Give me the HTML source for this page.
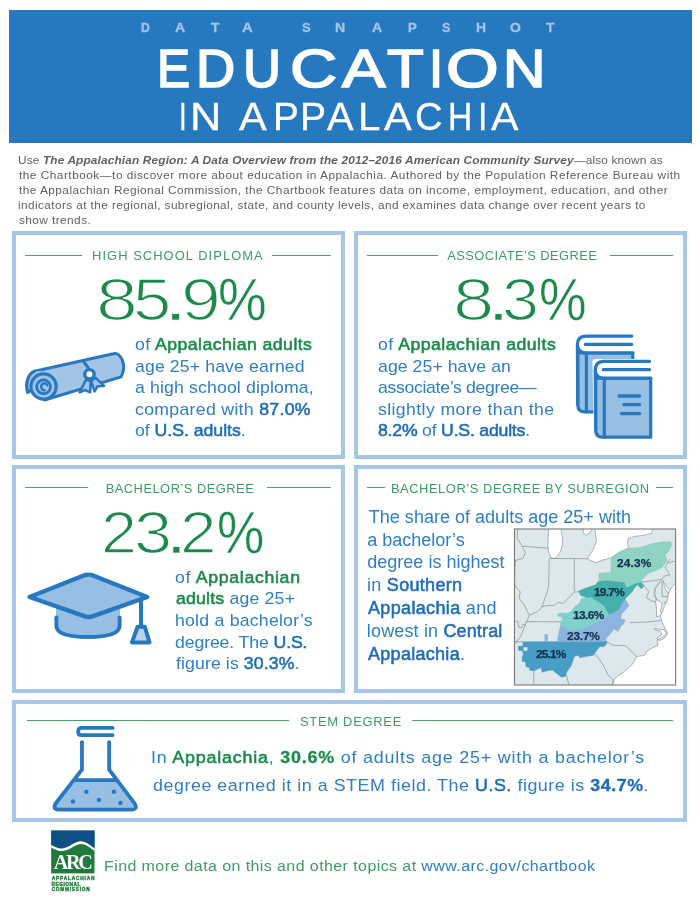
<!DOCTYPE html>
<html lang="en"><head><meta charset="utf-8"><title>Data Snapshot: Education in Appalachia</title>
<style>
html,body{margin:0;padding:0;background:#fff}
body{width:700px;height:906px;position:relative;overflow:hidden;font-family:"Liberation Sans",sans-serif}
.t{position:absolute;white-space:nowrap;margin:0;padding:0;transform-origin:0 50%}
.t b{font-weight:400}
.p{display:inline-block;width:0;height:0;vertical-align:baseline}
.banner{position:absolute;left:9px;top:9.5px;width:683px;height:133.5px;background:#2779bf}
.card{position:absolute;box-sizing:border-box;border:4px solid #a5c6e6;background:#fff}
.g{position:absolute;left:0;margin:0;padding:0;white-space:nowrap;font-size:0;line-height:0}
.l{display:inline-block;width:0;white-space:nowrap;transform-origin:0 50%;vertical-align:baseline}
.rule{position:absolute;height:1.5px;background:#48a36f}
svg{position:absolute;overflow:visible}
</style></head><body>
<div class="banner"></div>
<div class="card" style="left:12px;top:230.7px;width:333px;height:228px"></div>
<div class="card" style="left:354px;top:230.7px;width:333px;height:228px"></div>
<div class="card" style="left:12px;top:465px;width:333px;height:228px"></div>
<div class="card" style="left:354px;top:465px;width:333px;height:228px"></div>
<div class="card" style="left:12px;top:699.8px;width:675px;height:122.4px"></div>
<!-- rules -->
<div class="rule" style="left:24.6px;width:57.8px;top:254.5px"></div>
<div class="rule" style="left:271.8px;width:59.2px;top:254.5px"></div>
<div class="rule" style="left:366.7px;width:70.9px;top:254.5px"></div>
<div class="rule" style="left:609.5px;width:63.5px;top:254.5px"></div>
<div class="rule" style="left:24.6px;width:63.6px;top:486.6px"></div>
<div class="rule" style="left:267.4px;width:63.6px;top:486.6px"></div>
<div class="rule" style="left:366.7px;width:17.9px;top:486.6px"></div>
<div class="rule" style="left:656.1px;width:17px;top:486.6px"></div>
<div class="rule" style="left:27.1px;width:261.5px;top:719.7px"></div>
<div class="rule" style="left:411.9px;width:261.1px;top:719.7px"></div>
<svg width="700" height="906" viewBox="0 0 700 906" style="left:0;top:0">
<g fill="#a2c5e7" stroke="#2878c0" stroke-width="3.0" stroke-linejoin="round" stroke-linecap="round">
<path stroke="none" d="M34.6,371.3 L113.4,353.7 C121.1,351.7 127.1,365.7 121.1,376.9 L44.6,400.0 L43.6,386.6 Z"/>
<path fill="none" d="M34.6,371.3 L113.4,353.7 C121.1,351.7 127.1,365.7 121.1,376.9 L44.6,400.0"/>
<path fill="none" d="M83.8,361.9 Q87.2,365.7 88.9,369.1"/>
<path stroke="none" d="M30.86,390.36 L27.71,392.29 C25.00,384.29 27.86,373.57 34.64,371.29 L48.57,370.71 L43.57,386.57 Z"/>
<path fill="none" stroke-width="3.2" d="M30.86,390.36 L27.71,392.29 C25.00,384.29 27.86,373.57 34.64,371.29"/>
<circle cx="43.57" cy="386.57" r="12.6" stroke-width="3.2"/>
<circle cx="43.57" cy="386.87" r="6.9" fill="none" stroke-width="2.8"/>
<path fill="none" stroke-width="2.4" d="M47.29,385.14 C45.00,381.43 40.36,383.93 41.43,388.00 Q42.29,390.36 44.64,390.36"/>
<path stroke-width="2.5" d="M86.00,379.77 L79.66,392.29 L85.14,390.06 L90.29,392.29 L90.63,381.14Z"/>
<path stroke-width="2.5" d="M91.14,381.14 L94.57,391.43 L97.49,386.29 L104.00,385.94 L95.43,377.71Z"/>
<circle cx="89.43" cy="374.29" r="4.7" fill="#fff" stroke-width="3.4"/>
</g>
<g stroke="#2878c0" stroke-width="3.2" stroke-linejoin="round" stroke-linecap="round">
<g id="backbook"><path fill="#97bfe4" d="M577.81,352.84 L632.81,352.84 L632.81,411.84 L584.53,411.84 Q577.81,411.84 577.81,404.70 Z"/>
<path fill="#fff" d="M631.67,336.13 L585.67,336.13 Q577.39,336.56 577.39,344.70 Q577.67,352.27 585.39,352.84 L632.81,352.84"/>
<path fill="none" d="M585.39,344.41 L631.67,344.41"/>
<path fill="none" d="M586.39,353.13 L586.39,411.84"/>
<path fill="none" d="M577.39,344.70 L577.81,404.70"/></g>
<path fill="#fff" stroke="#fff" stroke-width="6.5" d="M595.71,362.14 L650.71,362.14 L650.71,437.14 L597.14,437.14 Z"/>
<path fill="#97bfe4" d="M595.71,378.14 L650.71,378.14 L650.71,437.14 L602.43,437.14 Q595.71,437.14 595.71,430.00 Z"/>
<path fill="#fff" d="M649.57,361.43 L603.57,361.43 Q595.29,361.86 595.29,370.00 Q595.57,377.57 603.29,378.14 L650.71,378.14"/>
<path fill="none" d="M603.29,369.71 L649.57,369.71"/>
<path fill="none" d="M604.29,378.43 L604.29,437.14"/>
<path fill="none" d="M595.29,370.00 L595.71,430.00"/>
<path fill="none" stroke-width="3.3" d="M619.00,396.00 L639.57,396.00 M623.86,404.71 L639.57,404.71 M621.43,413.57 L639.57,413.57"/>
</g>
<g fill="#97bfe4" stroke="#2878c0" stroke-width="4.0" stroke-linejoin="round" stroke-linecap="round">
<path stroke="none" d="M56.00,608.00 L56.00,626.00 Q56.00,637.40 88.00,637.40 Q120.00,637.40 120.00,626.00 L120.00,608.00 Z"/>
<path fill="none" d="M56.40,617.60 L56.40,626.00 Q56.80,637.00 88.00,637.00 Q119.20,637.00 119.60,626.00 L119.60,617.60"/>
<path stroke-width="4.4" d="M29.60,597.00 L84.40,575.20 Q88.40,574.00 92.40,575.20 L147.20,597.00 L92.40,616.40 Q89.00,617.60 85.00,616.40 Z"/>
<path fill="none" d="M141.00,600.00 L141.00,626.00"/>
<path fill="#b9d3ec" d="M137.60,626.80 L144.80,626.80 L149.60,642.40 L132.00,642.40 Z"/>
</g>
<g fill="none" stroke="#2878c0" stroke-width="3.8" stroke-linejoin="round" stroke-linecap="round">
<path fill="#97bfe4" stroke="none" d="M75.83,780.21 L115.11,780.21 L135.54,806.93 L132.71,809.29 L57.29,809.29 L54.46,806.93 Z"/>
<path d="M112.60,727.89 L81.17,727.89 Q78.19,728.20 78.19,731.50 Q78.19,735.11 81.17,735.11 L112.60,735.11"/>
<path d="M81.96,742.03 L81.96,769.69 L55.40,803.79 Q52.57,809.29 58.54,809.60 L131.93,809.60 Q137.74,809.29 134.91,803.79 L109.14,769.69 L109.14,742.03"/>
<path d="M76.46,780.21 L114.64,780.21"/>
<circle cx="86.36" cy="791.69" r="2.2" fill="#2878c0" stroke="none"/>
<circle cx="113.86" cy="791.69" r="2.2" fill="#2878c0" stroke="none"/>
<circle cx="73.00" cy="801.43" r="2.2" fill="#2878c0" stroke="none"/>
<circle cx="98.93" cy="799.86" r="2.2" fill="#2878c0" stroke="none"/>
<circle cx="120.46" cy="803.00" r="2.2" fill="#2878c0" stroke="none"/>
</g>
<clipPath id="mapclip"><rect x="514.5" y="529.0" width="161.1" height="156.0"/></clipPath>
<g clip-path="url(#mapclip)">
<rect x="514.5" y="529.0" width="161.1" height="156.0" fill="#dde8ec"/>
<path fill="#fff" stroke="#7b7f82" stroke-width="0.55" d="M548.57,527.57 L560.79,527.57 L562.46,537.86 L562.46,544.29 L560.79,550.71 L557.57,556.50 L553.71,558.69 L550.50,557.14 L548.57,550.71 L547.80,544.29 L548.31,536.57Z"/>
<path fill="#fff" stroke="#7b7f82" stroke-width="0.55" d="M583.93,527.57 L583.54,532.71 L585.86,535.29 L589.07,533.36 L591.64,530.14 L592.29,527.57Z"/>
<path fill="#fff" stroke="#7b7f82" stroke-width="0.55" d="M594.89,527.57 L595.79,536.57 L596.43,541.71 L592.57,550.71 L587.17,558.69 L590.00,560.36 L596.43,562.54 L602.86,559.97 L611.21,557.79 L619.57,552.00 L628.57,548.14 L627.54,543.00 L628.06,538.63 L635.00,536.31 L644.00,535.29 L651.71,532.97 L653.00,527.57Z"/>
<path fill="#fff" stroke="#7b7f82" stroke-width="0.55" d="M677.68,582.05 L673.71,584.83 L669.73,590.30 L668.24,593.77 L667.55,599.73 L664.27,606.69 L661.59,614.14 L659.80,615.83 L660.99,617.62 L661.79,621.59 L664.77,627.55 L667.55,633.51 L664.97,637.68 L659.80,640.66 L657.02,639.47 L658.01,645.43 L653.05,647.62 L647.88,650.40 L644.26,655.54 L636.54,656.57 L632.43,664.29 L623.69,672.00 L614.69,678.43 L611.86,687.43 L682.57,687.43 L677.68,650.00Z"/>
<path fill="#fff" stroke="#7b7f82" stroke-width="0.55" d="M663.08,580.86 L666.95,586.62 L669.73,590.30 L668.24,593.77 L664.97,588.01Z"/>
<path fill="#fff" stroke="#7b7f82" stroke-width="0.55" d="M656.03,599.54 L659.80,601.23 L661.99,603.71 L660.40,611.66 L661.59,614.14 L659.80,615.83 L656.42,616.62 L656.62,609.67 L655.83,602.72Z"/>
<path fill="#fff" stroke="#7b7f82" stroke-width="0.55" d="M659.60,581.36 L654.83,588.31 L653.84,593.77 L656.03,599.54 L656.62,599.54 L654.83,593.77 L655.63,588.81 L660.00,582.05Z"/>
<path fill="#fff" stroke="#7b7f82" stroke-width="0.55" d="M654.34,628.54 L659.80,629.34 L664.27,629.54 L666.26,634.01 L663.28,636.49 L658.31,639.47 L657.32,637.68 L661.99,634.50 L660.99,631.72 L654.83,629.54Z"/>
<path fill="none" stroke="#7b7f82" stroke-width="0.6" stroke-linejoin="round" d="M517.71,527.57 L517.07,537.86 L522.21,546.21 L525.43,552.64 L522.86,558.43 L515.79,560.36 L514.89,567.43 L514.50,584.14 L517.71,589.29 L520.29,591.86 L519.00,598.29 L524.14,604.71"/>
<path fill="none" stroke="#7b7f82" stroke-width="0.6" stroke-linejoin="round" d="M524.14,604.76 L529.29,615.43 L525.43,624.43 L520.93,636.00 L515.14,643.71 L512.57,646.29"/>
<path fill="none" stroke="#7b7f82" stroke-width="0.6" stroke-linejoin="round" d="M512.57,560.36 L515.79,560.36"/>
<path fill="none" stroke="#7b7f82" stroke-width="0.6" stroke-linejoin="round" d="M522.21,546.21 L547.93,548.14"/>
<path fill="none" stroke="#7b7f82" stroke-width="0.6" stroke-linejoin="round" d="M549.21,558.69 L548.57,586.71 L547.29,591.86 L544.07,600.86 L542.14,607.29"/>
<path fill="none" stroke="#7b7f82" stroke-width="0.6" stroke-linejoin="round" d="M549.86,558.43 L587.14,558.69"/>
<path fill="none" stroke="#7b7f82" stroke-width="0.6" stroke-linejoin="round" d="M574.29,558.43 L574.29,591.21"/>
<path fill="none" stroke="#7b7f82" stroke-width="0.6" stroke-linejoin="round" d="M542.14,606.64 L548.57,605.36 L553.71,605.74 L558.86,602.14 L562.71,603.69 L566.57,599.57 L570.43,596.36 L574.29,591.86 L579.43,591.86"/>
<path fill="none" stroke="#7b7f82" stroke-width="0.6" stroke-linejoin="round" d="M542.14,606.69 L537.64,611.57 L530.57,614.79 L529.29,615.43"/>
<path fill="none" stroke="#7b7f82" stroke-width="0.6" stroke-linejoin="round" d="M512.57,621.21 L517.71,621.21 L519.00,627.64 L522.21,627.64 L522.86,624.43 L525.43,624.43"/>
<path fill="none" stroke="#7b7f82" stroke-width="0.6" stroke-linejoin="round" d="M525.43,621.60 L560.14,621.86"/>
<path fill="none" stroke="#7b7f82" stroke-width="0.6" stroke-linejoin="round" d="M515.14,641.79 L522.86,641.79"/>
<path fill="none" stroke="#7b7f82" stroke-width="0.6" stroke-linejoin="round" d="M533.79,670.71 L533.79,687.43"/>
<path fill="none" stroke="#7b7f82" stroke-width="0.6" stroke-linejoin="round" d="M566.57,675.86 L567.86,681.00 L569.79,687.43"/>
<path fill="none" stroke="#7b7f82" stroke-width="0.6" stroke-linejoin="round" d="M639.44,582.35 L649.87,581.06 L661.79,579.37"/>
<path fill="none" stroke="#7b7f82" stroke-width="0.6" stroke-linejoin="round" d="M661.79,579.37 L664.77,575.89 L669.73,574.90 L666.95,569.93 L664.77,567.95 L667.75,562.98 L669.73,559.01"/>
<path fill="none" stroke="#7b7f82" stroke-width="0.6" stroke-linejoin="round" d="M667.75,562.98 L676.69,560.50"/>
<path fill="none" stroke="#7b7f82" stroke-width="0.6" stroke-linejoin="round" d="M661.79,579.87 L662.28,596.75 L668.24,596.26"/>
<path fill="none" stroke="#7b7f82" stroke-width="0.6" stroke-linejoin="round" d="M663.77,602.72 L667.25,601.72"/>
<path fill="none" stroke="#7b7f82" stroke-width="0.6" stroke-linejoin="round" d="M642.42,583.34 L648.87,591.79 L646.39,597.75 L651.36,600.73 L655.83,602.22"/>
<path fill="none" stroke="#7b7f82" stroke-width="0.6" stroke-linejoin="round" d="M630.00,622.58 L645.89,622.09 L660.79,620.60"/>
<path fill="none" stroke="#7b7f82" stroke-width="0.6" stroke-linejoin="round" d="M606.71,641.79 L613.14,645.26 L626.00,645.77 L636.54,656.57"/>
<path fill="none" stroke="#7b7f82" stroke-width="0.6" stroke-linejoin="round" d="M595.14,654.00 L602.86,664.29 L608.00,674.57 L613.14,680.36 L611.86,687.43"/>
<path fill="none" stroke="#7b7f82" stroke-width="0.6" stroke-linejoin="round" d="M604.79,641.14 L606.71,641.79"/>
<path fill="#8fd3c3" stroke="#7fbfb0" stroke-width="0.4" stroke-linejoin="round" d="M611.21,557.79 L619.57,552.00 L628.57,548.14 L640.14,547.50 L650.43,544.29 L662.00,541.71 L670.36,541.71 L671.90,544.29 L669.07,550.71 L665.21,555.21 L667.14,561.00 L662.00,567.43 L654.29,571.29 L647.86,573.60 L642.71,579.00 L640.79,583.50 L632.43,585.43 L627.29,588.26 L624.97,585.43 L624.07,582.47 L606.71,581.19 L599.00,581.57 L599.00,573.21 L610.83,572.57Z"/>
<path fill="#489dc6" stroke="#3f8db3" stroke-width="0.4" stroke-linejoin="round" d="M522.86,641.79 L607.07,641.40 L606.43,644.36 L603.21,646.93 L600.00,646.29 L595.50,652.07 L593.57,655.29 L585.86,656.57 L580.07,657.86 L578.14,655.29 L574.29,656.57 L571.71,664.29 L570.43,666.86 L566.57,672.00 L565.93,676.11 L561.43,677.14 L558.86,675.21 L552.43,670.07 L547.29,670.71 L542.14,672.26 L540.86,667.50 L534.43,670.71 L529.93,670.46 L529.29,667.50 L526.07,666.86 L525.43,661.71 L522.21,661.46 L522.21,656.57 L523.50,654.00 L522.21,650.79 L518.36,650.14 L518.36,646.29 L522.86,646.29Z"/>
<path fill="#dde8ec" d="M523.50,647.31 L527.36,647.31 L527.36,650.79 L523.50,650.79Z"/>
<path fill="#8bb5df" stroke="#7da5cd" stroke-width="0.4" stroke-linejoin="round" d="M560.79,625.14 L566.57,628.36 L570.43,630.93 L578.14,629.64 L585.86,628.36 L592.29,624.50 L598.71,621.93 L605.14,618.07 L609.00,614.21 L618.64,609.71 L621.86,602.64 L625.07,598.79 L628.93,605.86 L625.07,610.36 L621.86,613.57 L620.57,618.71 L625.07,620.00 L623.79,623.86 L621.21,625.79 L618.00,631.57 L614.14,629.00 L609.00,635.43 L606.43,638.00 L605.14,641.47 L557.57,641.86 L558.21,635.43Z"/>
<path fill="#8bb5df" d="M544.46,634.46 L546.00,633.69 L547.93,634.46 L547.93,641.91 L544.46,641.91Z"/>
<path fill="#80d1cb" stroke="#6fbdb8" stroke-width="0.4" stroke-linejoin="round" d="M557.57,614.21 L560.79,612.93 L566.57,613.57 L570.43,612.29 L574.29,607.14 L580.07,602.64 L581.36,598.79 L587.14,597.50 L591.00,596.86 L593.57,598.79 L600.00,602.64 L604.50,605.86 L606.43,609.71 L609.00,614.21 L605.14,618.07 L598.71,621.93 L592.29,624.50 L585.86,628.36 L578.14,629.64 L570.43,630.93 L566.57,628.36 L560.79,625.14 L560.14,621.93 L562.71,619.36 L561.43,616.79 L558.21,616.14Z"/>
<path fill="#43b0aa" stroke="#3a9c97" stroke-width="0.4" stroke-linejoin="round" d="M578.79,591.07 L584.57,588.50 L592.29,585.93 L596.14,584.64 L597.43,582.07 L600.00,581.43 L606.43,580.79 L624.43,582.71 L625.46,586.57 L627.00,587.86 L632.14,585.29 L637.29,583.36 L641.14,582.71 L643.71,585.93 L641.40,588.89 L637.29,584.64 L634.71,587.86 L632.14,591.71 L628.29,595.57 L625.07,598.79 L621.86,602.64 L618.64,609.71 L609.00,614.21 L606.43,609.71 L604.50,605.86 L600.00,602.64 L593.57,598.79 L591.00,596.86 L587.14,597.50 L580.71,595.57Z"/>
</g>
<rect x="514.5" y="529.0" width="161.1" height="156.0" fill="none" stroke="#77797b" stroke-width="1.1"/>
<g>
<rect x="51.2" y="830.6" width="43.3" height="42.8" fill="#1f7a3b"/>
<path fill="#0e4f86" d="M51.2,830.6 H94.5 V848.2 C91.5,846.3 88,843.2 84.5,842.0 C80,840.5 76,842 72,844.5 C67.5,847.3 63,849 58.5,848 C56,847.4 53.5,846.2 51.2,845.2 Z"/>
<path fill="#fff" d="M51.2,845.0 C53.5,846.2 56,847.4 58.5,848.2 C63,849.4 67.5,847.5 72,844.6 C76,842 80,840.4 84.5,841.9 C88,843.1 91.5,846.2 94.5,848.2 V850.9 C91.5,849 88,846 84.5,844.6 C80.5,843.2 76.5,844.6 72.5,847.3 C68,850.2 63,851.8 58.5,850.8 C56,850.2 53.5,848.8 51.2,847.6 Z"/>
</g>

</svg>
<div id="txt" style="position:absolute;left:0;top:0;width:700px;height:906px;will-change:transform">
<div class="g" id="ds" style="top:22.00px"><span class="l" id="ds0" style="margin-left:141.09px;font:700 12.6px/1 'Liberation Sans', sans-serif;color:#a2c5ea;transform:scaleX(0.9656);-webkit-text-stroke:0.3px #a2c5ea;"><span>D</span></span><span class="l" id="ds1" style="margin-left:34.00px;font:700 12.6px/1 'Liberation Sans', sans-serif;color:#a2c5ea;transform:scaleX(1.1163);-webkit-text-stroke:0.3px #a2c5ea;"><span>A</span></span><span class="l" id="ds2" style="margin-left:35.57px;font:700 12.6px/1 'Liberation Sans', sans-serif;color:#a2c5ea;transform:scaleX(1.0868);-webkit-text-stroke:0.3px #a2c5ea;"><span>T</span></span><span class="l" id="ds3" style="margin-left:31.79px;font:700 12.6px/1 'Liberation Sans', sans-serif;color:#a2c5ea;transform:scaleX(1.1800);-webkit-text-stroke:0.3px #a2c5ea;"><span>A</span></span> <span class="l" id="ds4" style="margin-left:59.53px;font:700 12.6px/1 'Liberation Sans', sans-serif;color:#a2c5ea;transform:scaleX(1.0248);-webkit-text-stroke:0.3px #a2c5ea;"><span>S</span></span><span class="l" id="ds5" style="margin-left:33.39px;font:700 12.6px/1 'Liberation Sans', sans-serif;color:#a2c5ea;transform:scaleX(1.1232);-webkit-text-stroke:0.3px #a2c5ea;"><span>N</span></span><span class="l" id="ds6" style="margin-left:36.48px;font:700 12.6px/1 'Liberation Sans', sans-serif;color:#a2c5ea;transform:scaleX(1.1142);-webkit-text-stroke:0.3px #a2c5ea;"><span>A</span></span><span class="l" id="ds7" style="margin-left:35.78px;font:700 12.6px/1 'Liberation Sans', sans-serif;color:#a2c5ea;transform:scaleX(1.0437);-webkit-text-stroke:0.3px #a2c5ea;"><span>P</span></span><span class="l" id="ds8" style="margin-left:34.22px;font:700 12.6px/1 'Liberation Sans', sans-serif;color:#a2c5ea;transform:scaleX(1.0092);-webkit-text-stroke:0.3px #a2c5ea;"><span>S</span></span><span class="l" id="ds9" style="margin-left:33.95px;font:700 12.6px/1 'Liberation Sans', sans-serif;color:#a2c5ea;transform:scaleX(1.1041);-webkit-text-stroke:0.3px #a2c5ea;"><span>H</span></span><span class="l" id="ds10" style="margin-left:34.72px;font:700 12.6px/1 'Liberation Sans', sans-serif;color:#a2c5ea;transform:scaleX(1.1013);-webkit-text-stroke:0.3px #a2c5ea;"><span>O</span></span><span class="l" id="ds11" style="margin-left:35.95px;font:700 12.6px/1 'Liberation Sans', sans-serif;color:#a2c5ea;transform:scaleX(1.0871);-webkit-text-stroke:0.3px #a2c5ea;"><span>T</span></span></div>
<div class="g" id="edu" style="top:42.00px"><span class="l" id="edu0" style="margin-left:157.35px;font:400 53.8px/1 'Liberation Sans', sans-serif;color:#fff;transform:scaleX(0.9218);-webkit-text-stroke:1.7px #fff;"><span>E</span></span><span class="l" id="edu1" style="margin-left:38.99px;font:400 53.8px/1 'Liberation Sans', sans-serif;color:#fff;transform:scaleX(1.0075);-webkit-text-stroke:1.7px #fff;"><span>D</span></span><span class="l" id="edu2" style="margin-left:46.39px;font:400 53.8px/1 'Liberation Sans', sans-serif;color:#fff;transform:scaleX(0.9776);-webkit-text-stroke:1.7px #fff;"><span>U</span></span><span class="l" id="edu3" style="margin-left:46.93px;font:400 53.8px/1 'Liberation Sans', sans-serif;color:#fff;transform:scaleX(1.2143);-webkit-text-stroke:1.7px #fff;"><span>C</span></span><span class="l" id="edu4" style="margin-left:52.14px;font:400 53.8px/1 'Liberation Sans', sans-serif;color:#fff;transform:scaleX(1.2101);-webkit-text-stroke:1.7px #fff;"><span>A</span></span><span class="l" id="edu5" style="margin-left:45.48px;font:400 53.8px/1 'Liberation Sans', sans-serif;color:#fff;transform:scaleX(1.1169);-webkit-text-stroke:1.7px #fff;"><span>T</span></span><span class="l" id="edu6" style="margin-left:42.11px;font:400 53.8px/1 'Liberation Sans', sans-serif;color:#fff;transform:scaleX(0.9451);-webkit-text-stroke:1.7px #fff;"><span>I</span></span><span class="l" id="edu7" style="margin-left:16.84px;font:400 53.8px/1 'Liberation Sans', sans-serif;color:#fff;transform:scaleX(1.2597);-webkit-text-stroke:1.7px #fff;"><span>O</span></span><span class="l" id="edu8" style="margin-left:56.35px;font:400 53.8px/1 'Liberation Sans', sans-serif;color:#fff;transform:scaleX(1.0961);-webkit-text-stroke:1.7px #fff;"><span>N</span></span></div>
<div class="g" id="inapp" style="top:98.00px"><span class="l" id="inapp0" style="margin-left:178.54px;font:400 38.2px/1 'Liberation Sans', sans-serif;color:#fff;transform:scaleX(0.7190);-webkit-text-stroke:0.3px #fff;"><span>I</span></span><span class="l" id="inapp1" style="margin-left:11.05px;font:400 38.2px/1 'Liberation Sans', sans-serif;color:#fff;transform:scaleX(1.1347);-webkit-text-stroke:0.3px #fff;"><span>N</span></span> <span class="l" id="inapp2" style="margin-left:49.89px;font:400 38.2px/1 'Liberation Sans', sans-serif;color:#fff;transform:scaleX(1.0881);-webkit-text-stroke:0.3px #fff;"><span>A</span></span><span class="l" id="inapp3" style="margin-left:33.07px;font:400 38.2px/1 'Liberation Sans', sans-serif;color:#fff;transform:scaleX(1.0142);-webkit-text-stroke:0.3px #fff;"><span>P</span></span><span class="l" id="inapp4" style="margin-left:27.45px;font:400 38.2px/1 'Liberation Sans', sans-serif;color:#fff;transform:scaleX(1.0236);-webkit-text-stroke:0.3px #fff;"><span>P</span></span><span class="l" id="inapp5" style="margin-left:26.89px;font:400 38.2px/1 'Liberation Sans', sans-serif;color:#fff;transform:scaleX(1.0410);-webkit-text-stroke:0.3px #fff;"><span>A</span></span><span class="l" id="inapp6" style="margin-left:30.74px;font:400 38.2px/1 'Liberation Sans', sans-serif;color:#fff;transform:scaleX(1.0553);-webkit-text-stroke:0.3px #fff;"><span>L</span></span><span class="l" id="inapp7" style="margin-left:26.02px;font:400 38.2px/1 'Liberation Sans', sans-serif;color:#fff;transform:scaleX(1.0888);-webkit-text-stroke:0.3px #fff;"><span>A</span></span><span class="l" id="inapp8" style="margin-left:31.87px;font:400 38.2px/1 'Liberation Sans', sans-serif;color:#fff;transform:scaleX(0.9976);-webkit-text-stroke:0.3px #fff;"><span>C</span></span><span class="l" id="inapp9" style="margin-left:33.04px;font:400 38.2px/1 'Liberation Sans', sans-serif;color:#fff;transform:scaleX(0.8812);-webkit-text-stroke:0.3px #fff;"><span>H</span></span><span class="l" id="inapp10" style="margin-left:29.25px;font:400 38.2px/1 'Liberation Sans', sans-serif;color:#fff;transform:scaleX(0.8860);-webkit-text-stroke:0.3px #fff;"><span>I</span></span><span class="l" id="inapp11" style="margin-left:13.61px;font:400 38.2px/1 'Liberation Sans', sans-serif;color:#fff;transform:scaleX(1.0791);-webkit-text-stroke:0.3px #fff;"><span>A</span></span></div>
<div class="t" id="in1" style="top:155.00px;left:18.36px;font:400 11.4px/1 'Liberation Sans', sans-serif;color:#5f6062;letter-spacing:0.136px;transform:scaleX(1.0400);"><span>Use <i style="font-weight:700">The Appalachian Region: A Data Overview from the 2012–2016 American Community Survey</i>—also known as</span></div>
<div class="t" id="in2" style="top:170.00px;left:19.18px;font:400 11.4px/1 'Liberation Sans', sans-serif;color:#5f6062;letter-spacing:0.470px;transform:scaleX(1.0400);"><span>the Chartbook—to discover more about education in Appalachia. Authored by the Population Reference Bureau with</span></div>
<div class="t" id="in3" style="top:185.00px;left:19.18px;font:400 11.4px/1 'Liberation Sans', sans-serif;color:#5f6062;letter-spacing:0.438px;transform:scaleX(1.0400);"><span>the Appalachian Regional Commission, the Chartbook features data on income, employment, education, and other</span></div>
<div class="t" id="in4" style="top:200.00px;left:18.37px;font:400 11.4px/1 'Liberation Sans', sans-serif;color:#5f6062;letter-spacing:0.375px;transform:scaleX(1.0400);"><span>indicators at the regional, subregional, state, and county levels, and examines data change over recent years to</span></div>
<div class="t" id="in5" style="top:215.00px;left:18.51px;font:400 11.4px/1 'Liberation Sans', sans-serif;color:#5f6062;letter-spacing:0.402px;transform:scaleX(1.0400);"><span>show trends.</span></div>
<div class="t" id="h1" style="top:250.00px;left:92.00px;font:400 12.9px/1 'Liberation Sans', sans-serif;color:#3c9c64;letter-spacing:1.073px;"><span>HIGH SCHOOL DIPLOMA</span></div>
<div class="t" id="h2" style="top:250.00px;left:447.27px;font:400 12.9px/1 'Liberation Sans', sans-serif;color:#3c9c64;letter-spacing:0.434px;"><span>ASSOCIATE’S DEGREE</span></div>
<div class="t" id="h3" style="top:483.00px;left:105.67px;font:400 12.9px/1 'Liberation Sans', sans-serif;color:#3c9c64;letter-spacing:0.481px;"><span>BACHELOR’S DEGREE</span></div>
<div class="t" id="h4" style="top:483.00px;left:390.90px;font:400 12.9px/1 'Liberation Sans', sans-serif;color:#3c9c64;letter-spacing:0.561px;"><span>BACHELOR’S DEGREE BY SUBREGION</span></div>
<div class="t" id="h5" style="top:716.00px;left:299.95px;font:400 12.9px/1 'Liberation Sans', sans-serif;color:#3c9c64;letter-spacing:0.755px;"><span>STEM DEGREE</span></div>
<div class="g" id="n1" style="top:271.00px"><span class="l thin" id="n10" style="margin-left:95.96px;font:400 59.0px/1 'Liberation Sans', sans-serif;color:#1b8a4a;transform:scaleX(1.2733);-webkit-text-stroke:1.5px #fff;"><span>8</span></span><span class="l thin" id="n11" style="margin-left:36.81px;font:400 59.0px/1 'Liberation Sans', sans-serif;color:#1b8a4a;transform:scaleX(1.1689);-webkit-text-stroke:1.5px #fff;"><span>5</span></span><span class="l thin" id="n12" style="margin-left:31.37px;font:400 59.0px/1 'Liberation Sans', sans-serif;color:#1b8a4a;transform:scaleX(1.4255);-webkit-text-stroke:0.6px #fff;"><span>.</span></span><span class="l thin" id="n13" style="margin-left:16.43px;font:400 59.0px/1 'Liberation Sans', sans-serif;color:#1b8a4a;transform:scaleX(1.2136);-webkit-text-stroke:1.5px #fff;"><span>9</span></span><span class="l thin" id="n14" style="margin-left:37.75px;font:400 59.0px/1 'Liberation Sans', sans-serif;color:#1b8a4a;transform:scaleX(0.9282);-webkit-text-stroke:0.5px #fff;"><span>%</span></span></div>
<div class="g" id="n2" style="top:271.00px"><span class="l thin" id="n20" style="margin-left:452.72px;font:400 59.0px/1 'Liberation Sans', sans-serif;color:#1b8a4a;transform:scaleX(1.2563);-webkit-text-stroke:1.5px #fff;"><span>8</span></span><span class="l thin" id="n21" style="margin-left:34.81px;font:400 59.0px/1 'Liberation Sans', sans-serif;color:#1b8a4a;transform:scaleX(1.2741);-webkit-text-stroke:0.6px #fff;"><span>.</span></span><span class="l thin" id="n22" style="margin-left:14.74px;font:400 59.0px/1 'Liberation Sans', sans-serif;color:#1b8a4a;transform:scaleX(1.1291);-webkit-text-stroke:1.5px #fff;"><span>3</span></span><span class="l thin" id="n23" style="margin-left:36.36px;font:400 59.0px/1 'Liberation Sans', sans-serif;color:#1b8a4a;transform:scaleX(0.9071);-webkit-text-stroke:0.5px #fff;"><span>%</span></span></div>
<div class="g" id="n3" style="top:504.00px"><span class="l thin" id="n30" style="margin-left:100.72px;font:400 59.0px/1 'Liberation Sans', sans-serif;color:#1b8a4a;transform:scaleX(1.0949);-webkit-text-stroke:1.5px #fff;"><span>2</span></span><span class="l thin" id="n31" style="margin-left:32.86px;font:400 59.0px/1 'Liberation Sans', sans-serif;color:#1b8a4a;transform:scaleX(1.1637);-webkit-text-stroke:1.5px #fff;"><span>3</span></span><span class="l thin" id="n32" style="margin-left:32.44px;font:400 59.0px/1 'Liberation Sans', sans-serif;color:#1b8a4a;transform:scaleX(1.2672);-webkit-text-stroke:0.6px #fff;"><span>.</span></span><span class="l thin" id="n33" style="margin-left:13.63px;font:400 59.0px/1 'Liberation Sans', sans-serif;color:#1b8a4a;transform:scaleX(1.1111);-webkit-text-stroke:1.5px #fff;"><span>2</span></span><span class="l thin" id="n34" style="margin-left:37.00px;font:400 59.0px/1 'Liberation Sans', sans-serif;color:#1b8a4a;transform:scaleX(0.9011);-webkit-text-stroke:0.5px #fff;"><span>%</span></span></div>
<div class="t" id="c1a" style="top:336.00px;left:134.64px;font:400 17.0px/1 'Liberation Sans', sans-serif;color:#2e7ec5;letter-spacing:0.425px;transform:scaleX(1.0400);"><span>of <b style="color:#1b8a4a;-webkit-text-stroke:0.55px #1b8a4a">Appalachian adults</b></span></div>
<div class="t" id="c1b" style="top:358.00px;left:134.55px;font:400 17.0px/1 'Liberation Sans', sans-serif;color:#2e7ec5;letter-spacing:0.106px;transform:scaleX(1.0400);"><span>age 25+ have earned</span></div>
<div class="t" id="c1c" style="top:379.00px;left:134.55px;font:400 17.0px/1 'Liberation Sans', sans-serif;color:#2e7ec5;letter-spacing:0.129px;transform:scaleX(1.0400);"><span>a high school diploma,</span></div>
<div class="t" id="c1d" style="top:401.00px;left:134.62px;font:400 17.0px/1 'Liberation Sans', sans-serif;color:#2e7ec5;letter-spacing:0.296px;transform:scaleX(1.0400);"><span>compared with <b style="color:#1f6db8;-webkit-text-stroke:0.55px #1f6db8">87.0%</b></span></div>
<div class="t" id="c1e" style="top:422.00px;left:134.64px;font:400 17.0px/1 'Liberation Sans', sans-serif;color:#2e7ec5;letter-spacing:-0.029px;transform:scaleX(1.0400);"><span>of <b style="color:#1f6db8;-webkit-text-stroke:0.55px #1f6db8">U.S. adults</b>.</span></div>
<div class="t" id="c2a" style="top:336.00px;left:378.36px;font:400 17.0px/1 'Liberation Sans', sans-serif;color:#2e7ec5;letter-spacing:0.464px;transform:scaleX(1.0400);"><span>of <b style="color:#1b8a4a;-webkit-text-stroke:0.55px #1b8a4a">Appalachian adults</b></span></div>
<div class="t" id="c2b" style="top:358.00px;left:378.27px;font:400 17.0px/1 'Liberation Sans', sans-serif;color:#2e7ec5;letter-spacing:0.048px;transform:scaleX(1.0400);"><span>age 25+ have an</span></div>
<div class="t" id="c2c" style="top:379.00px;left:378.27px;font:400 17.0px/1 'Liberation Sans', sans-serif;color:#2e7ec5;letter-spacing:-0.321px;transform:scaleX(1.0400);"><span>associate’s degree—</span></div>
<div class="t" id="c2d" style="top:401.00px;left:378.12px;font:400 17.0px/1 'Liberation Sans', sans-serif;color:#2e7ec5;letter-spacing:0.369px;transform:scaleX(1.0400);"><span>slightly more than the</span></div>
<div class="t" id="c2e" style="top:422.00px;left:378.44px;font:400 17.0px/1 'Liberation Sans', sans-serif;color:#2e7ec5;letter-spacing:-0.212px;transform:scaleX(1.0400);"><span><b style="color:#1f6db8;-webkit-text-stroke:0.55px #1f6db8">8.2%</b> of <b style="color:#1f6db8;-webkit-text-stroke:0.55px #1f6db8">U.S. adults</b>.</span></div>
<div class="t" id="c3a" style="top:569.00px;left:175.44px;font:400 17.0px/1 'Liberation Sans', sans-serif;color:#2e7ec5;letter-spacing:0.663px;transform:scaleX(1.0400);"><span>of <b style="color:#1b8a4a;-webkit-text-stroke:0.55px #1b8a4a">Appalachian</b></span></div>
<div class="t" id="c3b" style="top:590.00px;left:175.97px;font:400 17.0px/1 'Liberation Sans', sans-serif;color:#2e7ec5;letter-spacing:0.183px;transform:scaleX(1.0400);"><span><b style="color:#1b8a4a;-webkit-text-stroke:0.55px #1b8a4a">adults</b> age 25+</span></div>
<div class="t" id="c3c" style="top:612.00px;left:175.25px;font:400 17.0px/1 'Liberation Sans', sans-serif;color:#2e7ec5;letter-spacing:0.216px;transform:scaleX(1.0400);"><span>hold a bachelor’s</span></div>
<div class="t" id="c3d" style="top:634.00px;left:175.48px;font:400 17.0px/1 'Liberation Sans', sans-serif;color:#2e7ec5;letter-spacing:-0.115px;transform:scaleX(1.0400);"><span>degree. The <b style="color:#1f6db8;-webkit-text-stroke:0.55px #1f6db8">U.S.</b></span></div>
<div class="t" id="c3e" style="top:655.00px;left:176.13px;font:400 17.0px/1 'Liberation Sans', sans-serif;color:#2e7ec5;letter-spacing:0.099px;transform:scaleX(1.0400);"><span>figure is <b style="color:#1f6db8;-webkit-text-stroke:0.55px #1f6db8">30.3%</b>.</span></div>
<div class="t" id="c4a" style="top:508.00px;left:368.80px;font:400 18.0px/1 'Liberation Sans', sans-serif;color:#2e7ec5;letter-spacing:0.015px;"><span>The share of adults age 25+ with</span></div>
<div class="t" id="c4b" style="top:531.00px;left:367.23px;font:400 18.0px/1 'Liberation Sans', sans-serif;color:#2e7ec5;letter-spacing:0.001px;"><span>a bachelor’s</span></div>
<div class="t" id="c4c" style="top:553.00px;left:367.26px;font:400 18.0px/1 'Liberation Sans', sans-serif;color:#2e7ec5;letter-spacing:0.017px;"><span>degree is highest</span></div>
<div class="t" id="c4d" style="top:576.00px;left:366.96px;font:400 18.0px/1 'Liberation Sans', sans-serif;color:#2e7ec5;letter-spacing:0.296px;"><span>in <b style="color:#1f6db8;-webkit-text-stroke:0.55px #1f6db8">Southern</b></span></div>
<div class="t" id="c4e" style="top:599.00px;left:368.00px;font:400 18.0px/1 'Liberation Sans', sans-serif;color:#2e7ec5;letter-spacing:0.343px;"><span><b style="color:#1f6db8;-webkit-text-stroke:0.55px #1f6db8">Appalachia</b> and</span></div>
<div class="t" id="c4f" style="top:622.00px;left:366.87px;font:400 18.0px/1 'Liberation Sans', sans-serif;color:#2e7ec5;letter-spacing:0.147px;"><span>lowest in <b style="color:#1f6db8;-webkit-text-stroke:0.55px #1f6db8">Central</b></span></div>
<div class="t" id="c4g" style="top:645.00px;left:368.00px;font:400 18.0px/1 'Liberation Sans', sans-serif;color:#2e7ec5;letter-spacing:0.287px;"><span><b style="color:#1f6db8;-webkit-text-stroke:0.55px #1f6db8">Appalachia</b>.</span></div>
<div class="t" id="s1" style="top:749.00px;left:151.43px;font:400 17.2px/1 'Liberation Sans', sans-serif;color:#2e7ec5;letter-spacing:0.771px;transform:scaleX(1.0400);"><span>In <b style="color:#1b8a4a;-webkit-text-stroke:0.55px #1b8a4a">Appalachia</b>, <b style="font-weight:700;color:#1b8a4a;-webkit-text-stroke:0.3px #1b8a4a">30.6%</b> of adults age 25+ with a bachelor’s</span></div>
<div class="t" id="s2" style="top:777.00px;left:152.52px;font:400 17.2px/1 'Liberation Sans', sans-serif;color:#2e7ec5;letter-spacing:0.512px;transform:scaleX(1.0400);"><span>degree earned it in a STEM field. The <b style="color:#1f6db8;-webkit-text-stroke:0.55px #1f6db8">U.S.</b> figure is <b style="font-weight:700;color:#1f6db8;-webkit-text-stroke:0.3px #1f6db8">34.7%</b>.</span></div>
<div class="t" id="ft" style="top:858.00px;left:103.51px;font:400 15.5px/1 'Liberation Sans', sans-serif;color:#3c9c64;letter-spacing:0.413px;transform:scaleX(1.0300);"><span>Find more data on this and other topics at <span style="color:#2e7ec5">www.arc.gov/chartbook</span></span></div>
<div class="t" id="m1" style="top:558.00px;left:617.21px;font:700 11.4px/1 'Liberation Sans', sans-serif;color:#14314f;letter-spacing:0.191px;transform:scaleX(1.0400);-webkit-text-stroke:0.25px #14314f;"><span>24.3%</span></div>
<div class="t" id="m2" style="top:587.00px;left:593.93px;font:700 11.4px/1 'Liberation Sans', sans-serif;color:#14314f;letter-spacing:-0.701px;transform:scaleX(1.0400);-webkit-text-stroke:0.25px #14314f;"><span>19.7%</span></div>
<div class="t" id="m3" style="top:610.00px;left:572.57px;font:700 11.4px/1 'Liberation Sans', sans-serif;color:#14314f;letter-spacing:-0.548px;transform:scaleX(1.0400);-webkit-text-stroke:0.25px #14314f;"><span>13.6%</span></div>
<div class="t" id="m4" style="top:631.00px;left:567.49px;font:700 11.4px/1 'Liberation Sans', sans-serif;color:#14314f;letter-spacing:-0.167px;transform:scaleX(1.0400);-webkit-text-stroke:0.25px #14314f;"><span>23.7%</span></div>
<div class="t" id="m5" style="top:649.00px;left:535.69px;font:700 11.4px/1 'Liberation Sans', sans-serif;color:#14314f;letter-spacing:-0.786px;transform:scaleX(1.0400);-webkit-text-stroke:0.25px #14314f;"><span>25.1%</span></div>
<div class="t" id="arc" style="top:852.10px;left:53.84px;font:700 20.2px/1 'Liberation Serif', serif;color:#fff;letter-spacing:-2.377px;"><span>ARC</span></div>
<div class="t" id="lg1" style="top:877.30px;left:51.67px;font:700 4.8px/1 'Liberation Sans', sans-serif;color:#1f7a3b;letter-spacing:0.821px;-webkit-text-stroke:0.35px #1f7a3b;"><span>APPALACHIAN</span></div>
<div class="t" id="lg2" style="top:882.50px;left:51.49px;font:700 4.8px/1 'Liberation Sans', sans-serif;color:#1f7a3b;letter-spacing:0.535px;-webkit-text-stroke:0.35px #1f7a3b;"><span>REGIONAL</span></div>
<div class="t" id="lg3" style="top:887.70px;left:51.65px;font:700 4.8px/1 'Liberation Sans', sans-serif;color:#1f7a3b;letter-spacing:0.726px;-webkit-text-stroke:0.35px #1f7a3b;"><span>COMMISSION</span></div>

</div>
</body></html>
